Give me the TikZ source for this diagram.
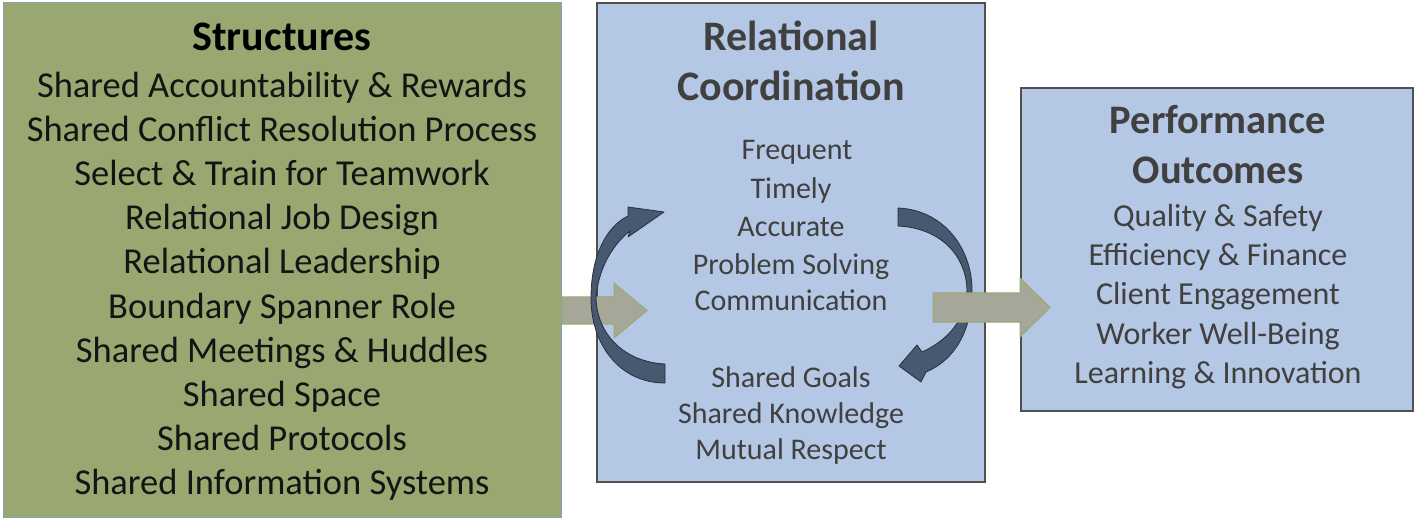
\documentclass[tikz,border=0pt]{standalone}
\usepackage{fontspec}
\setmainfont{Carlito}
\definecolor{greenbox}{RGB}{152,168,112}
\definecolor{bluebox}{RGB}{180,199,228}
\definecolor{boxline}{RGB}{80,80,80}
\definecolor{greenline}{RGB}{140,160,180}
\definecolor{grayarrow}{RGB}{166,167,153}
\definecolor{grayarrowline}{RGB}{150,172,110}
\definecolor{curvefill}{RGB}{72,88,112}
\definecolor{curveline}{RGB}{40,48,60}
\definecolor{midtext}{RGB}{64,64,64}
\begin{document}
\begin{tikzpicture}[x=1pt,y=-1pt,
  box/.style={draw=boxline,line width=1.2pt,fill=bluebox},
  gbox/.style={draw=greenline,line width=1pt,fill=greenbox},
  bigarrow/.style={fill=grayarrow,draw=grayarrowline,line width=1pt,line join=miter},
  curvearrow/.style={fill=curvefill,draw=curveline,line width=0.8pt,line join=round},
  ttl/.style={anchor=base,font=\fontsize{42}{48}\selectfont\bfseries},
  sitem/.style={anchor=base,font=\fontsize{36.5}{44}\selectfont,text=black!92},
  mitem/.style={anchor=base,font=\fontsize{30}{36}\selectfont,text=midtext},
  ritem/.style={anchor=base,font=\fontsize{32}{38}\selectfont,text=midtext}]
\useasboundingbox (0,0) rectangle (1416,521);

% boxes
\path[gbox] (3,3) rectangle (561,517);
\path[box] (597,3) rectangle (985,482);
\path[box] (1021,88) rectangle (1413,411);

% right curved arrow (below the gray arrow)
\path[curvearrow] (898,208)
  .. controls (945,210) and (972,250) .. (972,290)
  .. controls (972,330) and (955,360) .. (926,372)
  -- (921,382) -- (899,366) -- (917,345) -- (922,352)
  .. controls (948,340) and (966,320) .. (967,290)
  .. controls (966,255) and (940,228) .. (898,226) -- cycle;

% gray arrows
\path[bigarrow] (562,297) -- (614,297) -- (614,283) -- (647,310.5) -- (614,338) -- (614,324) -- (562,324) -- cycle;
\path[bigarrow] (933,293) -- (1020,293) -- (1020,278) -- (1050,307.5) -- (1020,337) -- (1020,322) -- (933,322) -- cycle;

% left curved arrow (above the gray arrow)
\path[curvearrow] (665,383)
  .. controls (620,383) and (591,345) .. (591,298)
  .. controls (591,255) and (607,226) .. (628,216)
  -- (628,207) -- (664,212) -- (628,237) -- (630,231)
  .. controls (612,245) and (598,270) .. (596,298)
  .. controls (597,335) and (625,362) .. (665,364) -- cycle;

% Structures
\node[ttl,text=black] (s0) at (282,51) {Structures};
\node[sitem] (s1) at (282,98) {Shared Accountability \& Rewards};
\node[sitem] (s2) at (282,142) {Shared Conflict Resolution Process};
\node[sitem] (s3) at (282,186) {Select \& Train for Teamwork};
\node[sitem] (s4) at (282,230) {Relational Job Design};
\node[sitem] (s5) at (282,274) {Relational Leadership};
\node[sitem] (s6) at (282,318) {Boundary Spanner Role};
\node[sitem] (s7) at (282,362) {Shared Meetings \& Huddles};
\node[sitem] (s8) at (282,406) {Shared Space};
\node[sitem] (s9) at (282,450) {Shared Protocols};
\node[sitem] (s10) at (282,494) {Shared Information Systems};

% Relational Coordination
\node[ttl,text=midtext] (m0) at (791,51) {Relational};
\node[ttl,text=midtext] (m1) at (791,101) {Coordination};
\node[mitem] (m2) at (797,160) {Frequent};
\node[mitem] (m3) at (791,199) {Timely};
\node[mitem] (m4) at (791,237) {Accurate};
\node[mitem] (m5) at (791,275) {Problem Solving};
\node[mitem] (m6) at (791,311) {Communication};
\node[mitem] (m7) at (791,387) {Shared Goals};
\node[mitem] (m8) at (791,423) {Shared Knowledge};
\node[mitem] (m9) at (791,459) {Mutual Respect};

% Performance Outcomes
\node[ttl,text=midtext,font=\fontsize{40.5}{46}\selectfont\bfseries] (r0) at (1218,134) {Performance};
\node[ttl,text=midtext,font=\fontsize{40.5}{46}\selectfont\bfseries] (r1) at (1218,184) {Outcomes};
\node[ritem] (r2) at (1218,227) {Quality \& Safety};
\node[ritem] (r3) at (1218,266) {Efficiency \& Finance};
\node[ritem] (r4) at (1218,305) {Client Engagement};
\node[ritem] (r5) at (1218,344) {Worker Well-Being};
\node[ritem] (r6) at (1218,383) {Learning \& Innovation};
\end{tikzpicture}
\end{document}
